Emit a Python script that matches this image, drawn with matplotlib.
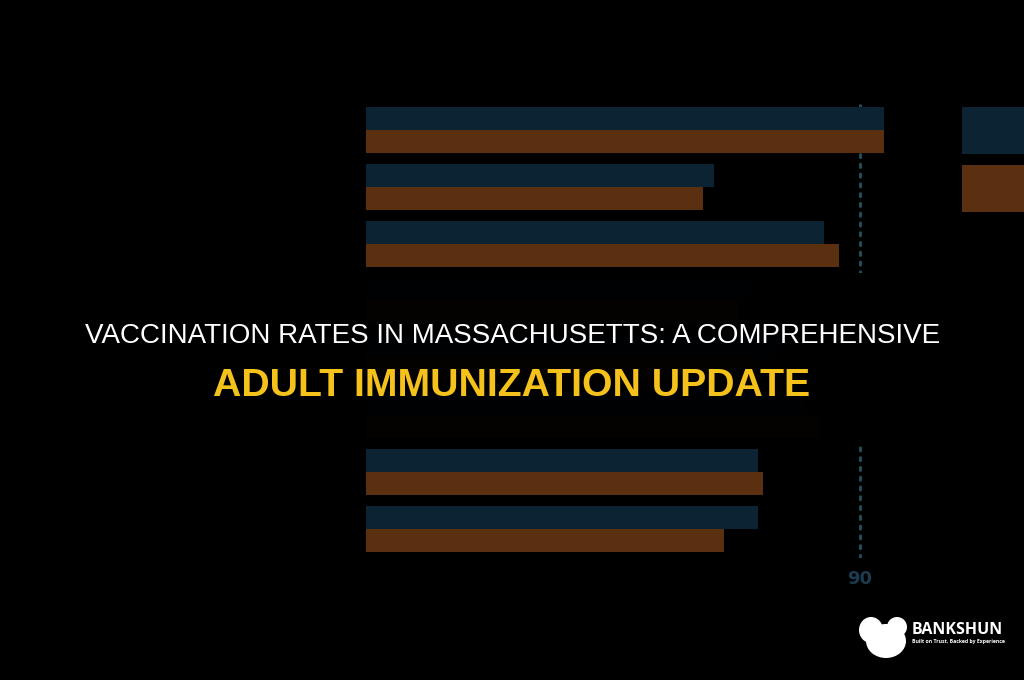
import numpy as np
import matplotlib
matplotlib.use("Agg")
from matplotlib import pyplot as plt
from matplotlib.patches import Rectangle, Ellipse

# values (percent), top to bottom
groups = ["Group 1", "Group 2", "Group 3", "Group 4", "Group 5", "Group 6", "Group 7", "Group 8"]
ma_rate = [94.4, 63.4, 83.4, 70.0, 75.0, 80.0, 71.4, 71.4]
us_rate = [94.4, 61.4, 86.2, 68.0, 72.0, 82.7, 72.3, 65.2]
series_names = ["Massachusetts", "National"]
target = 90

blue = "#0c2334"
brown = "#5a3010"

fig = plt.figure(figsize=(10.24, 6.8), dpi=100, facecolor="black")
ax = fig.add_axes([366 / 1024, 1 - 557.5 / 680, 548.9 / 1024, 456 / 680])
ax.set_facecolor("black")

y = np.arange(len(groups))
h = 0.4
b1 = ax.barh(y - h / 2, ma_rate, height=h, color=blue, label=series_names[0])
b2 = ax.barh(y + h / 2, us_rate, height=h, color=brown, label=series_names[1])
ax.axvline(target, color="#1f4d58", linestyle=(0, (1, 2.2)), linewidth=2.2, dash_capstyle="round", zorder=0)

ax.set_xlim(0, 100)
ax.set_ylim(7.5, -0.5)
ax.set_yticks([])
ax.set_xticks([target])
ax.set_xticklabels([str(target)], color="#1c3a50", fontsize=13, fontweight="bold")
ax.tick_params(axis="x", length=0, pad=9)
for s in ax.spines.values():
    s.set_visible(False)

# big legend swatches at the right edge; their labels fall outside the picture
leg = fig.legend(handles=[b1, b2], labels=["", ""], loc="upper left",
                 bbox_to_anchor=(962 / 1024, 1 - 107 / 680), frameon=False,
                 fontsize=20, handlelength=2.6, handleheight=2.2,
                 borderpad=0, borderaxespad=0, labelspacing=0.42)

# dark band behind the headline
fig.patches.append(Rectangle((0, 1 - 446 / 680), 1, 173 / 680, transform=fig.transFigure,
                             facecolor="black", alpha=0.96, zorder=5))

fig.text(85 / 1024, 1 - 343 / 680, "VACCINATION RATES IN MASSACHUSETTS: A COMPREHENSIVE",
         ha="left", va="baseline", color="white", fontsize=20,
         family="Liberation Sans", zorder=10)
fig.text(0.5, 1 - 396 / 680, "ADULT IMMUNIZATION UPDATE",
         ha="center", va="baseline", color="#f5c21c", fontsize=28.3, fontweight="bold",
         family="Liberation Sans", zorder=10)

# logo
for cx, cy, w, hh in [(886, 641, 40, 34), (871, 630, 24, 26), (897, 627, 20, 20)]:
    fig.patches.append(Ellipse((cx / 1024, 1 - cy / 680), w / 1024, hh / 680,
                               transform=fig.transFigure, facecolor="white", zorder=10))
fig.text(912 / 1024, 1 - 630 / 680, "BANKSHUN", color="white", fontsize=11.5,
         fontweight="bold", family="Open Sans", va="center", ha="left", zorder=10)
fig.text(912 / 1024, 1 - 642 / 680, "Built on Trust, Backed by Experience", color="white",
         fontsize=3.7, fontweight="bold", family="Open Sans", va="center", ha="left", zorder=10)

fig.savefig("out.png", dpi=100, facecolor="black")
